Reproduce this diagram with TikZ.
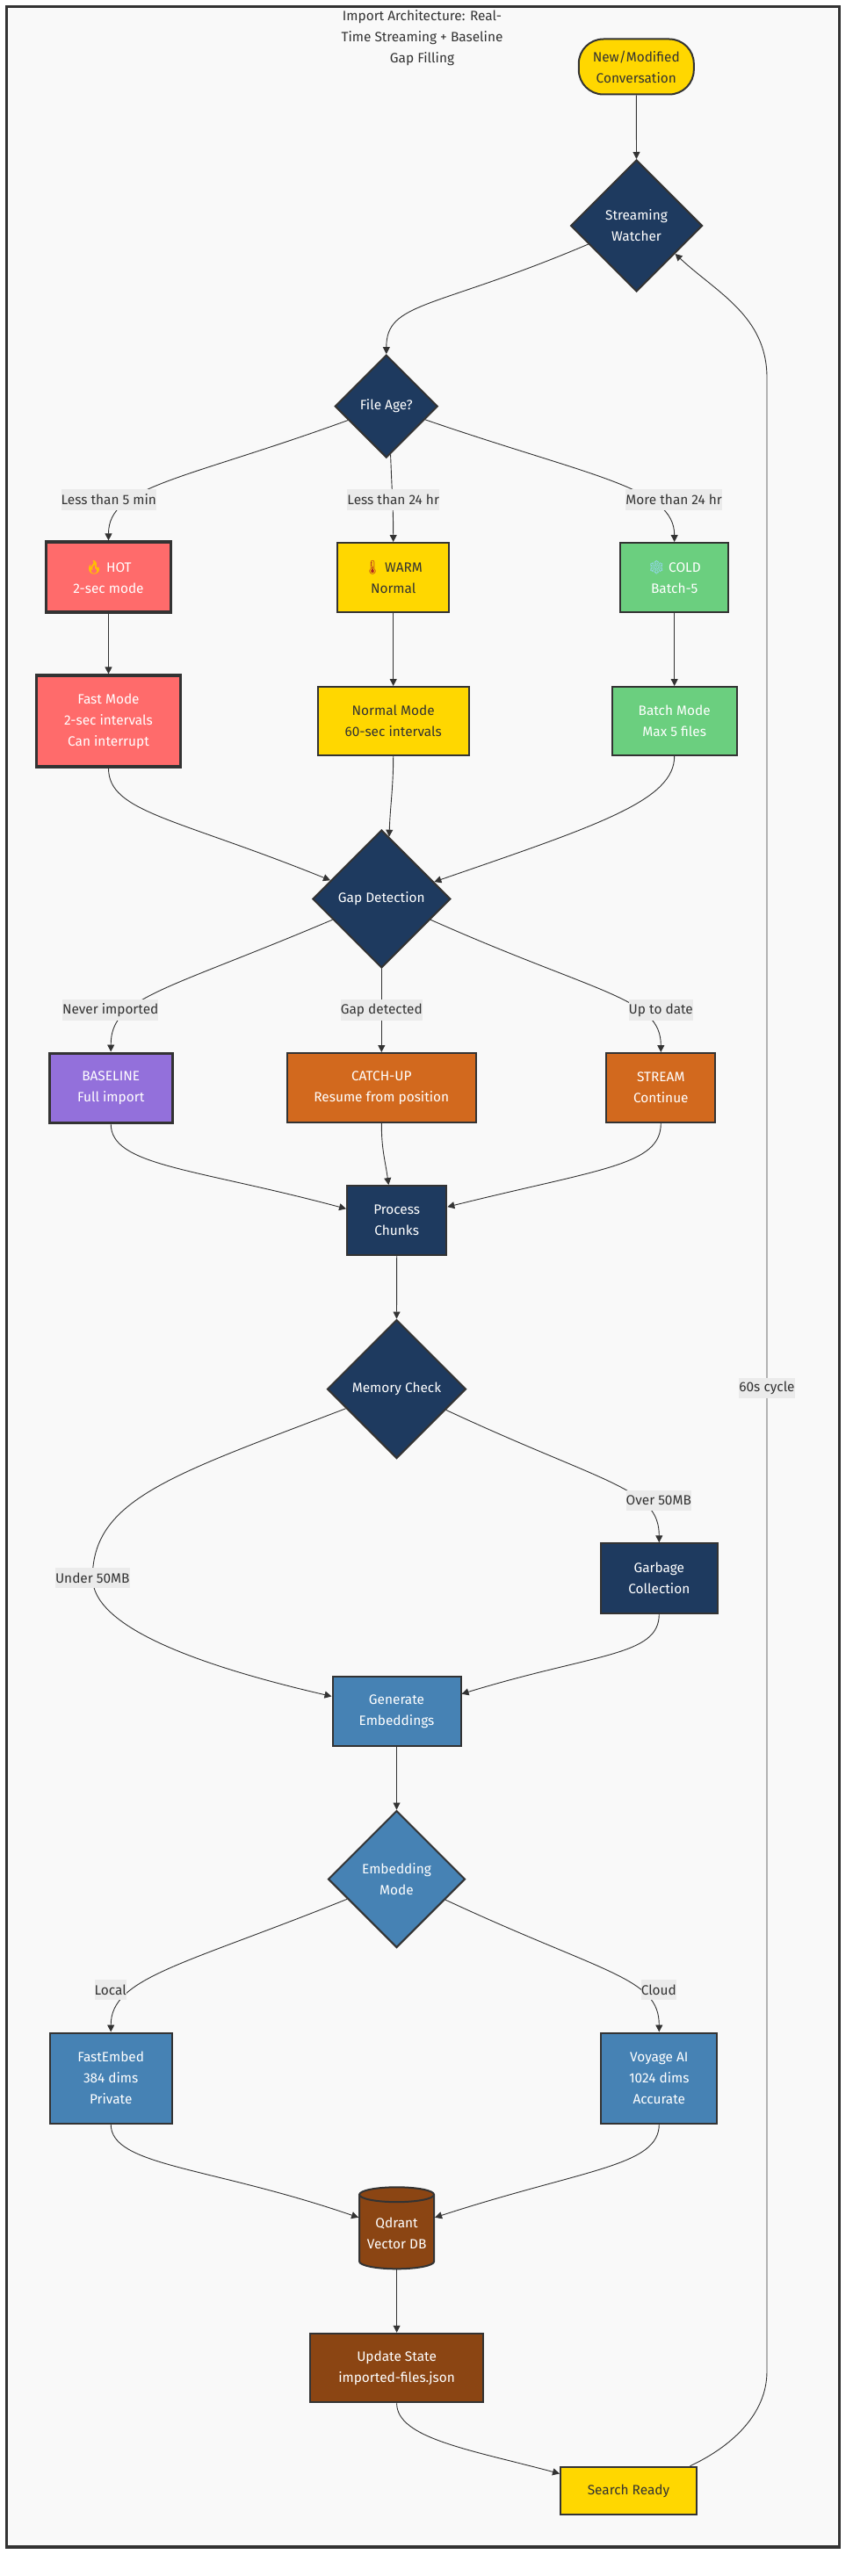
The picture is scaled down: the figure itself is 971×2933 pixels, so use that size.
\documentclass[tikz,border=0pt]{standalone}
\usepackage{fontspec}
\setmainfont{Fira Sans}
\newfontfamily\emojifont{Noto Emoji}
\usetikzlibrary{shapes.geometric,arrows.meta,backgrounds}
\definecolor{inkcol}{HTML}{333333}
\definecolor{panelcol}{HTML}{F9F9F9}
\definecolor{tagcol}{HTML}{EBEBEB}
\definecolor{navycol}{HTML}{1E3A5F}
\definecolor{redcol}{HTML}{FF6B6B}
\definecolor{goldcol}{HTML}{FFD700}
\definecolor{greencol}{HTML}{6BCF7F}
\definecolor{purplecol}{HTML}{9370DB}
\definecolor{orangecol}{HTML}{D2691E}
\definecolor{bluecol}{HTML}{4682B4}
\definecolor{browncol}{HTML}{8B4513}
\definecolor{flamecol}{HTML}{FFC000}
\definecolor{tubecol}{HTML}{B22222}
\definecolor{frostcol}{HTML}{9CD8FF}
\tikzset{
  txt/.style={font=\fontsize{15.4}{24}\selectfont,align=center,inner sep=0pt},
  flowbox/.style={txt,draw=inkcol,line width=2pt,text=white},
  decide/.style={flowbox,diamond,aspect=1,minimum width=#1,minimum height=#1},
  thick box/.style={line width=3.2pt},
  navy/.style={fill=navycol},
  hotbox/.style={flowbox,fill=redcol,thick box},
  warmbox/.style={flowbox,fill=goldcol,text=inkcol},
  coldbox/.style={flowbox,fill=greencol},
  fullbox/.style={flowbox,fill=purplecol,line width=3pt},
  orangebox/.style={flowbox,fill=orangecol},
  bluebox/.style={flowbox,fill=bluecol},
  brownbox/.style={flowbox,fill=browncol},
  tag/.style={txt,fill=tagcol,text=inkcol,minimum height=23.5pt},
  link/.style={draw=inkcol,line width=.9pt,-{Stealth[inset=0pt,length=8pt,width=8pt]}}
}
\newcommand{\emo}[2]{\textcolor{#1}{\emojifont #2}}
\begin{document}
\begin{tikzpicture}[x=1pt,y=1pt]
  \useasboundingbox (0,0) rectangle (971,-2933);
  \node[txt,text=inkcol] (title) at (480.5,-43) {Import Architecture: Real-\\Time Streaming + Baseline\\Gap Filling};
  % top of the chart
  \node[warmbox,rounded corners=28pt,minimum width=131pt,minimum height=63pt] (start) at (724.3,-76) {New/Modified\\Conversation};
  \node[decide=150pt,navy] (watcher) at (724.5,-257) {Streaming\\Watcher};
  \node[decide=117pt,navy] (fileage) at (439.8,-462.6) {File Age?};
  \node[hotbox,minimum width=142pt,minimum height=80pt] (hot) at (123.5,-657) {\emo{flamecol}{🔥} HOT\\2-sec mode};
  \node[warmbox,minimum width=127.5pt,minimum height=79pt] (warm) at (447.7,-657.5) {\emo{tubecol}{🌡} WARM\\Normal};
  \node[coldbox,minimum width=123.5pt,minimum height=79pt] (cold) at (767.7,-657.5) {\emo{frostcol}{❄} COLD\\Batch-5};
  \node[hotbox,minimum width=164pt,minimum height=104pt] (fast) at (123.5,-821) {Fast Mode\\2-sec intervals\\Can interrupt};
  \node[warmbox,minimum width=172pt,minimum height=78pt] (normal) at (447.7,-821) {Normal Mode\\60-sec intervals};
  \node[coldbox,minimum width=142pt,minimum height=78pt] (batch) at (767.7,-821) {Batch Mode\\Max 5 files};
  % gap detection
  \node[decide=157pt,navy] (gap) at (434.3,-1023.5) {Gap Detection};
  \node[fullbox,minimum width=140pt,minimum height=79pt] (baseline) at (126.2,-1238.5) {BASELINE\\Full import};
  \node[orangebox,minimum width=214.7pt,minimum height=79pt] (catchup) at (434.3,-1238.5) {CATCH-UP\\Resume from position};
  \node[orangebox,minimum width=124pt,minimum height=79pt] (stream) at (752.3,-1238.5) {STREAM\\Continue};
  \node[flowbox,navy,minimum width=113.3pt,minimum height=79pt] (process) at (451.7,-1389.6) {Process\\Chunks};
  % memory
  \node[decide=158pt,navy] (memory) at (451.5,-1581.5) {Memory Check};
  \node[flowbox,navy,minimum width=133pt,minimum height=79.5pt] (garbage) at (750.3,-1797) {Garbage\\Collection};
  \node[bluebox,minimum width=146pt,minimum height=79pt] (generate) at (451.5,-1948.5) {Generate\\Embeddings};
  % embedding and storage
  \node[decide=156pt,bluebox] (embed) at (451.5,-2139.5) {Embedding\\Mode};
  \node[bluebox,minimum width=139pt,minimum height=103pt] (fastembed) at (126.2,-2366) {FastEmbed\\384 dims\\Private};
  \node[bluebox,minimum width=132pt,minimum height=103pt] (voyage) at (750.3,-2366) {Voyage AI\\1024 dims\\Accurate};
  \node[brownbox,cylinder,shape border rotate=90,aspect=.25,minimum width=85pt,minimum height=93pt,cylinder uses custom fill,cylinder body fill=browncol,cylinder end fill=browncol] (qdrant) at (451.6,-2541.5) {\rule{0pt}{15pt}Qdrant\\Vector DB};
  \node[brownbox,minimum width=197pt,minimum height=78.5pt] (update) at (451.6,-2696) {Update State\\imported-files.json};
  \node[warmbox,minimum width=155pt,minimum height=54.5pt] (search) at (715.5,-2836) {Search Ready};
  % edge labels
  \node[tag] (lblhot) at (123.8,-569) {Less than 5 min};
  \node[tag] (lblwarm) at (447.7,-569) {Less than 24 hr};
  \node[tag] (lblcold) at (767.2,-569) {More than 24 hr};
  \node[tag] (lblnever) at (125.7,-1150) {Never imported};
  \node[tag] (lblgap) at (434.3,-1150) {Gap detected};
  \node[tag] (lbldate) at (752.3,-1150) {Up to date};
  \node[tag] (lblunder) at (105.3,-1796.5) {Under 50MB};
  \node[tag] (lblover) at (749.8,-1708.4) {Over 50MB};
  \node[tag] (lblcycle) at (873,-1580.7) {60s cycle};
  \node[tag] (lbllocal) at (125.7,-2265.4) {Local};
  \node[tag] (lblcloud) at (749.8,-2265.4) {Cloud};
  \coordinate (cyclelow) at (873,-2700);
  \coordinate (cyclehigh) at (873,-430);
  \begin{scope}[on background layer]
    \draw[inkcol,line width=3.5pt,fill=panelcol] (7.5,-7.5) rectangle (955.5,-2900);
    \draw[link] (start.south)--(watcher.north);
    \draw[link] (watcher.201) to[out=203,in=90,out distance=190pt,in distance=60pt] (fileage.north);
    \draw[link] (fileage.200) to[out=200,in=90,out distance=200pt,in distance=62pt] (hot.north);
    \draw[link] (fileage.-85) to[out=-88,in=90] (warm.north);
    \draw[link] (fileage.-19) to[out=-19,in=90,out distance=200pt,in distance=62pt] (cold.north);
    \draw[link] (hot.south)--(fast.north);
    \draw[link] (warm.south)--(normal.north);
    \draw[link] (cold.south)--(batch.north);
    \draw[link] (fast.south) to[out=-90,in=158,out distance=50pt,in distance=190pt] (gap.160);
    \draw[link] (normal.south) to[out=-90,in=88] (gap.83);
    \draw[link] (batch.south) to[out=-90,in=19,out distance=50pt,in distance=200pt] (gap.18);
    \draw[link] (gap.203) to[out=203,in=90,out distance=210pt,in distance=62pt] (baseline.north);
    \draw[link] (gap.south)--(catchup.north);
    \draw[link] (gap.-23) to[out=-24,in=90,out distance=210pt,in distance=62pt] (stream.north);
    \draw[link] (baseline.south) to[out=-90,in=165,out distance=48pt,in distance=180pt] (process.167);
    \draw[link] (catchup.south) to[out=-90,in=98,out distance=30pt,in distance=30pt] (process.103);
    \draw[link] (stream.south) to[out=-90,in=14,out distance=48pt,in distance=180pt] (process.15);
    \draw[link] (process.south)--(memory.north);
    \draw[link] (memory.201) to[out=201,in=90,out distance=210pt,in distance=90pt] (lblunder.center) to[out=-90,in=167,out distance=55pt,in distance=160pt] (generate.167);
    \draw[link] (memory.-23) to[out=-25,in=90,out distance=200pt,in distance=62pt] (garbage.north);
    \draw[link] (garbage.south) to[out=-90,in=17,out distance=48pt,in distance=160pt] (generate.15);
    \draw[link] (generate.south)--(embed.north);
    \draw[link] (embed.202) to[out=202,in=90,out distance=200pt,in distance=62pt] (fastembed.north);
    \draw[link] (embed.-23) to[out=-25,in=90,out distance=200pt,in distance=62pt] (voyage.north);
    \draw[link] (fastembed.south) to[out=-90,in=161,out distance=48pt,in distance=180pt] (qdrant.159);
    \draw[link] (voyage.south) to[out=-90,in=18,out distance=48pt,in distance=180pt] (qdrant.21);
    \draw[link] (qdrant.south)--(update.north);
    \draw[link] (update.south) to[out=-90,in=165,out distance=40pt,in distance=105pt] (search.166);
    \draw[link] (search.22) to[out=25,in=-90,out distance=50pt,in distance=50pt] (cyclelow) -- (lblcycle.center) -- (cyclehigh) to[out=90,in=-43,out distance=70pt,in distance=65pt] (watcher.-36);
  \end{scope}
\end{tikzpicture}
\end{document}
